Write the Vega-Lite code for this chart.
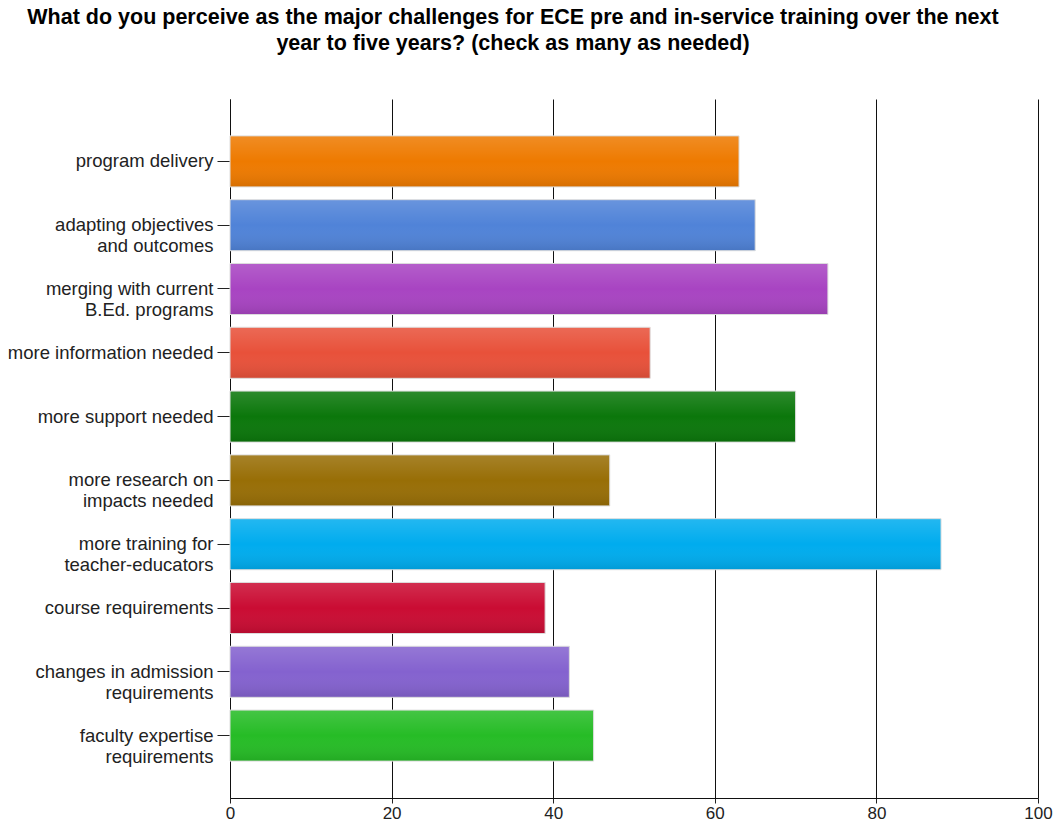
{
  "$schema": "https://vega.github.io/schema/vega-lite/v6.json",
  "autosize": {"type": "none"},
  "width": 808,
  "height": 699,
  "padding": {"left": 230, "top": 99, "right": 17, "bottom": 32},
  "background": "white",
  "config": {"view": {"stroke": null}},
  "title": {
    "text": ["What do you perceive as the major challenges for ECE pre and in-service training over the next", "year to five years? (check as many as needed)"],
    "font": "Liberation Sans",
    "fontSize": 21.5,
    "fontWeight": "bold",
    "color": "#000000",
    "anchor": "middle",
    "dx": -121,
    "offset": 45,
    "lineHeight": 26
  },
  "data": {
    "values": [
      {"challenge": "program delivery", "value": 63},
      {"challenge": "adapting objectives|and outcomes", "value": 65},
      {"challenge": "merging with current|B.Ed. programs", "value": 74},
      {"challenge": "more information needed", "value": 52},
      {"challenge": "more support needed", "value": 70},
      {"challenge": "more research on|impacts needed", "value": 47},
      {"challenge": "more training for|teacher-educators", "value": 88},
      {"challenge": "course requirements", "value": 39},
      {"challenge": "changes in admission|requirements", "value": 42},
      {"challenge": "faculty expertise|requirements", "value": 45}
    ]
  },
  "encoding": {
    "y": {
      "field": "challenge",
      "type": "nominal",
      "sort": null,
      "scale": {"paddingInner": 0.2, "paddingOuter": 0.578},
      "axis": {
        "title": null,
        "labelExpr": "split(datum.label, '|')",
        "labelFont": "Liberation Sans",
        "labelFontSize": 18.5,
        "labelColor": "#222222",
        "labelLineHeight": 21,
        "labelPadding": 4,
        "labelLimit": 400,
        "tickSize": 13,
        "tickColor": "#222222",
        "domainColor": "#111111",
        "grid": false
      }
    },
    "x": {
      "field": "value",
      "type": "quantitative",
      "scale": {"domain": [0, 100], "nice": false},
      "axis": {
        "title": null,
        "values": [0, 20, 40, 60, 80, 100],
        "labelFont": "Liberation Sans",
        "labelFontSize": 17,
        "labelColor": "#222222",
        "labelPadding": 2,
        "labelFlush": false,
        "tickSize": 5,
        "tickColor": "#222222",
        "domainColor": "#111111",
        "grid": true,
        "gridColor": "#111111",
        "gridWidth": 1,
        "gridOpacity": 1
      }
    }
  },
  "layer": [
    {
      "mark": {"type": "bar", "opacity": 1},
      "encoding": {
        "color": {
          "field": "challenge",
          "type": "nominal",
          "sort": null,
          "legend": null,
          "scale": {
            "range": ["#EE7A00", "#5083D8", "#A844C2", "#E8513A", "#0B770B", "#986E06", "#00ACEE", "#CA0C33", "#8462CF", "#26BC26"]
          }
        }
      }
    },
    {
      "mark": {
        "type": "bar",
        "stroke": "#dddddd",
        "strokeWidth": 1,
        "color": {
          "gradient": "linear",
          "x1": 0, "y1": 0, "x2": 0, "y2": 1,
          "stops": [
            {"offset": 0, "color": "rgba(255,255,255,0.14)"},
            {"offset": 0.5, "color": "rgba(255,255,255,0)"},
            {"offset": 1, "color": "rgba(0,0,0,0.1)"}
          ]
        }
      }
    }
  ]
}
